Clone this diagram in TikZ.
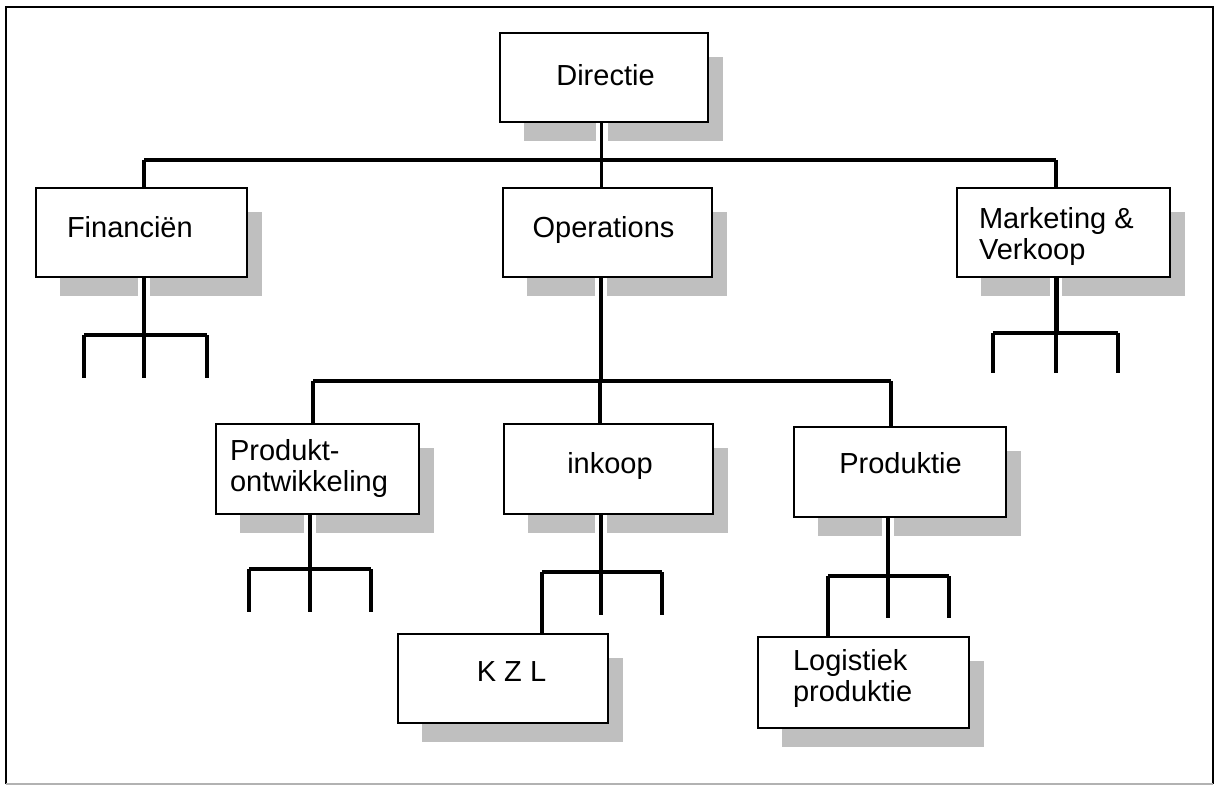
\documentclass[tikz,border=0pt]{standalone}
\usepackage{fontspec}
\setmainfont{Liberation Sans}
\usetikzlibrary{calc}
\pgfdeclarelayer{background}
\pgfsetlayers{background,main}
\newcommand\boxshadow[1]{\fill[shadow] ($(#1.north west)+(24,24)$) rectangle ($(#1.south east)+(15,19)$);}
\begin{document}
\begin{tikzpicture}[x=1pt,y=-1pt,
  box/.style={draw=black, line width=2.6pt, fill=white, inner sep=0pt, outer sep=0pt},
  shadow/.style={fill=gray!50},
  wire/.style={line width=3.2pt},
  halo/.style={draw=white, line width=12pt},
  lbl/.style={font=\fontsize{29}{31}\selectfont, inner sep=0pt, outer sep=0pt, align=left}]
\useasboundingbox (0,0) rectangle (1223,786);

% outer frame
\draw[line width=2.6pt] (6,784) -- (6,7) -- (1213,7) -- (1213,784);
\draw[line width=1.5pt, gray!60] (6,784) -- (1213,784);

% boxes
\node[box, minimum width=208pt, minimum height=89pt] (dir) at (604,77.5) {};
\node[box, minimum width=211pt, minimum height=89pt] (fin) at (141.5,232.5) {};
\node[box, minimum width=209pt, minimum height=89pt] (ops) at (607.5,232.5) {};
\node[box, minimum width=213pt, minimum height=89pt] (mkt) at (1063.5,232.5) {};
\node[box, minimum width=203pt, minimum height=90pt] (pro) at (317.5,469) {};
\node[box, minimum width=209pt, minimum height=90pt] (ink) at (608.5,469) {};
\node[box, minimum width=212pt, minimum height=90pt] (prd) at (900,472) {};
\node[box, minimum width=210pt, minimum height=89pt] (kzl) at (503,678.5) {};
\node[box, minimum width=211pt, minimum height=91pt] (log) at (863.5,682.5) {};

% labels
\node[lbl, anchor=base] (dir-t) at (605.5,86) {Directie};
\node[lbl, anchor=base west] (fin-t) at (67,238) {Financiën};
\node[lbl, anchor=base] (ops-t) at (603.5,238) {Operations};
\node[lbl, anchor=north west] (mkt-t) at (979,207) {Marketing \&\\Verkoop};
\node[lbl, anchor=north west] (pro-t) at (230,439) {Produkt-\\ontwikkeling};
\node[lbl, anchor=base] (ink-t) at (610,473) {inkoop};
\node[lbl, anchor=base] (prd-t) at (900.5,473) {Produktie};
\node[lbl, anchor=base] (kzl-t) at (511.5,681) {K Z L};
\node[lbl, anchor=north west] (log-t) at (793,649) {Logistiek\\produktie};

% junction points of the bus lines and forks
\coordinate (busA) at (601.5,160);
\coordinate (busL) at (144,160);
\coordinate (busR) at (1056,160);
\coordinate (busO) at (601,381);
\coordinate (busP) at (313,381);
\coordinate (busI) at (600,381);
\coordinate (busQ) at (891,381);
\coordinate (finF) at (144,335);
\coordinate (mktF) at (1056,333);
\coordinate (proF) at (310,569);
\coordinate (inkF) at (601,572);
\coordinate (prdF) at (888,576);

% shadows and white gaps where stems cross them
\begin{pgfonlayer}{background}
  \foreach \n in {dir,fin,ops,mkt,pro,ink,prd,kzl,log} {\boxshadow{\n}}
  \draw[halo] (busA |- dir.south) -- ++(0,22);
  \draw[halo] (finF |- fin.south) -- ++(0,22);
  \draw[halo] (busO |- ops.south) -- ++(0,22);
  \draw[halo] (mktF |- mkt.south) -- ++(0,22);
  \draw[halo] (proF |- pro.south) -- ++(0,22);
  \draw[halo] (inkF |- ink.south) -- ++(0,22);
  \draw[halo] (prdF |- prd.south) -- ++(0,22);
\end{pgfonlayer}

% top level
\draw[wire] (busA |- dir.south) -- (busA);
\draw[wire] (busL) -- (busR);
\draw[wire] (busL) -- (busL |- fin.north);
\draw[wire] (busA) -- (busA |- ops.north);
\draw[wire] (busR) -- (busR |- mkt.north);

% Operations
\draw[wire] (busO |- ops.south) -- (busO);
\draw[wire] (busP) -- (busQ);
\draw[wire] (busP) -- (busP |- pro.north);
\draw[wire] (busI) -- (busI |- ink.north);
\draw[wire] (busQ) -- (busQ |- prd.north);

% forks below Financiën
\draw[wire] (finF |- fin.south) -- (finF);
\draw[wire] ([xshift=-60pt]finF) -- ([xshift=63pt]finF);
\draw[wire] ([xshift=-60pt]finF) -- ++(0,43);
\draw[wire] (finF) -- ++(0,43);
\draw[wire] ([xshift=63pt]finF) -- ++(0,43);

% forks below Marketing & Verkoop
\draw[line width=5pt] (mktF |- mkt.south) -- (mktF);
\draw[wire] ([xshift=-63pt]mktF) -- ([xshift=62pt]mktF);
\draw[wire] ([xshift=-63pt]mktF) -- ++(0,40);
\draw[wire] (mktF) -- ++(0,40);
\draw[wire] ([xshift=62pt]mktF) -- ++(0,40);

% forks below Produktontwikkeling
\draw[wire] (proF |- pro.south) -- (proF);
\draw[wire] ([xshift=-61pt]proF) -- ([xshift=61pt]proF);
\draw[wire] ([xshift=-61pt]proF) -- ++(0,43);
\draw[wire] (proF) -- ++(0,43);
\draw[wire] ([xshift=61pt]proF) -- ++(0,43);

% inkoop to K Z L
\draw[wire] (inkF |- ink.south) -- (inkF);
\draw[wire] ([xshift=-59pt]inkF) -- ([xshift=61pt]inkF);
\draw[wire] ([xshift=-59pt]inkF) -- ([xshift=-59pt]inkF |- kzl.north);
\draw[wire] (inkF) -- ++(0,43);
\draw[wire] ([xshift=61pt]inkF) -- ++(0,43);

% Produktie to Logistiek produktie
\draw[wire] (prdF |- prd.south) -- (prdF);
\draw[wire] ([xshift=-60pt]prdF) -- ([xshift=61pt]prdF);
\draw[wire] ([xshift=-60pt]prdF) -- ([xshift=-60pt]prdF |- log.north);
\draw[wire] (prdF) -- ++(0,42);
\draw[wire] ([xshift=61pt]prdF) -- ++(0,42);
\end{tikzpicture}
\end{document}
